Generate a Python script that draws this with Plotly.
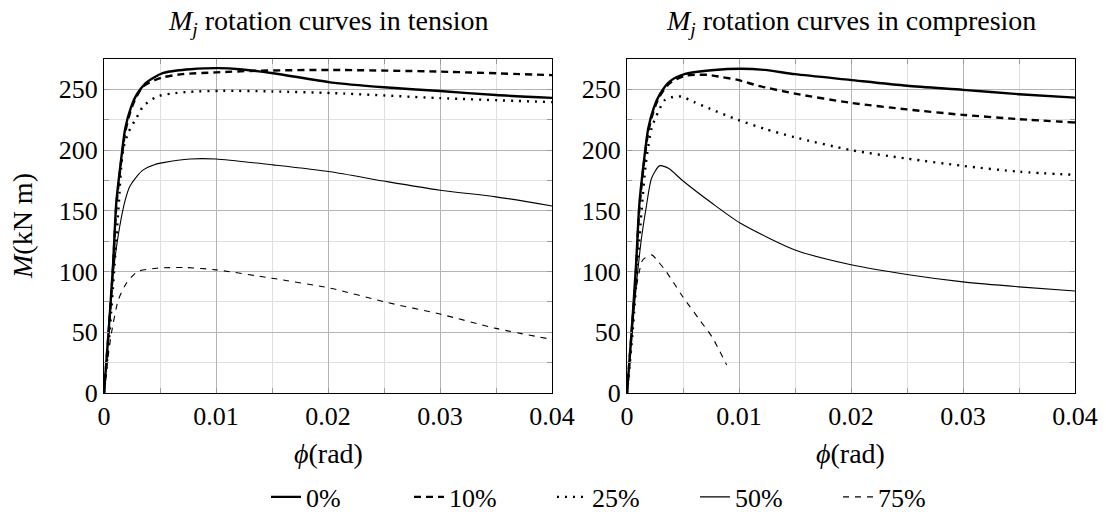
import plotly.graph_objects as go

# ---------------- data ----------------
series_names = ["0%", "10%", "25%", "50%", "75%"]

# tension
t_phi_0 = [0, 0.0004, 0.0008, 0.0011, 0.0015, 0.0019, 0.0024, 0.0029, 0.0037, 0.0045, 0.0053, 0.0065, 0.0077, 0.009, 0.0102, 0.0121, 0.0151, 0.0202, 0.025, 0.03, 0.035, 0.04]
t_M_0 = [0, 49, 104, 157, 190, 218, 235, 245.4, 255, 260, 263.5, 265.5, 266.6, 267.3, 267.5, 266.6, 263.3, 255.8, 251.7, 248.6, 245.3, 243]
t_phi_10 = [0, 0.0004, 0.0008, 0.0011, 0.0015, 0.0019, 0.0024, 0.0029, 0.0035, 0.0045, 0.0053, 0.007, 0.01, 0.0136, 0.0202, 0.03, 0.04]
t_M_10 = [0, 48, 102, 154, 188, 215, 233, 244, 252.5, 257.5, 260, 262.5, 264, 265.3, 266, 264.6, 261.7]
t_phi_25 = [0, 0.0005, 0.0009, 0.0013, 0.0017, 0.0022, 0.0029, 0.0035, 0.0047, 0.006, 0.0077, 0.0106, 0.015, 0.0205, 0.03, 0.04]
t_M_25 = [0, 50, 100, 153, 200, 215, 226.5, 236, 244, 246.5, 248, 248.8, 248.3, 246.9, 242.8, 239.5]
t_phi_50 = [0, 0.0003, 0.0005, 0.0009, 0.0014, 0.0019, 0.0023, 0.0029, 0.0035, 0.0045, 0.0053, 0.0077, 0.01, 0.0151, 0.0202, 0.025, 0.03, 0.035, 0.04]
t_M_50 = [0, 35, 65, 105, 137, 159, 170, 178, 183.7, 188, 189.7, 192.7, 192.7, 187.8, 182.2, 174.5, 167, 161.5, 154]
t_phi_75 = [0, 0.0003, 0.00066, 0.00128, 0.002, 0.003, 0.0048, 0.0072, 0.01, 0.015, 0.0202, 0.0252, 0.03, 0.035, 0.04]
t_M_75 = [0, 25, 49, 76.6, 90.4, 100, 102.8, 103.3, 101.4, 94.5, 86.3, 74.7, 65, 53.2, 44.1]

# compression
c_phi_0 = [0, 0.0004, 0.0008, 0.0011, 0.0015, 0.0019, 0.0024, 0.0029, 0.0038, 0.0052, 0.0078, 0.0102, 0.0123, 0.015, 0.0199, 0.025, 0.03, 0.035, 0.04]
c_M_0 = [0, 49, 104, 155, 190, 218, 235, 245.4, 256.4, 262.7, 266, 267, 266, 262.5, 257.8, 253, 249.6, 246, 243.2]
c_phi_10 = [0, 0.0004, 0.0008, 0.0011, 0.0015, 0.0019, 0.0024, 0.0029, 0.0038, 0.0052, 0.0065, 0.0073, 0.0085, 0.0099, 0.0117, 0.015, 0.02, 0.025, 0.03, 0.035, 0.04]
c_M_10 = [0, 48, 100, 152, 188, 215, 233, 244, 255, 261.3, 262, 261.9, 260, 257.8, 253, 246.5, 238.9, 233.5, 229, 225.5, 222.7]
c_phi_25 = [0, 0.0005, 0.0009, 0.0013, 0.0017, 0.0022, 0.0028, 0.0034, 0.0043, 0.0049, 0.006, 0.0073, 0.0099, 0.0123, 0.015, 0.02, 0.025, 0.03, 0.035, 0.04]
c_M_25 = [0, 50, 100, 150, 190, 218, 231.7, 241.4, 244.1, 244, 239.5, 234.5, 224.9, 217.5, 210.5, 200, 193, 187, 182.2, 179.6]
c_phi_50 = [0, 0.0004, 0.0009, 0.0013, 0.0017, 0.0022, 0.0029, 0.0037, 0.0049, 0.0076, 0.0101, 0.015, 0.0199, 0.025, 0.03, 0.035, 0.04]
c_M_50 = [0, 45, 95, 128, 152, 177, 187, 185, 175.4, 156.2, 140, 117.8, 105.8, 97.6, 91.5, 87.4, 84]
c_phi_75 = [0, 0.0003, 0.0007, 0.0011, 0.0014, 0.0022, 0.0028, 0.0035, 0.005, 0.0065, 0.0076, 0.0089]
c_M_75 = [0, 35, 79, 100, 109.5, 113.7, 108, 100, 79, 60, 46, 23]

x_ticks = [0, 0.01, 0.02, 0.03, 0.04]
x_tick_labels = ["0", "0.01", "0.02", "0.03", "0.04"]
y_ticks = [0, 50, 100, 150, 200, 250]
y_tick_labels = ["0", "50", "100", "150", "200", "250"]

titles = ["<i>M</i><sub><i>j</i></sub> rotation curves in tension",
          "<i>M</i><sub><i>j</i></sub> rotation curves in compresion"]
x_label = "<i>ϕ</i>(rad)"
y_label = "<i>M</i>(kN m)"

# ---------------- styles ----------------
styles = [
    dict(color="black", width=2.4, dash="solid"),
    dict(color="black", width=2.4, dash="7px,5px"),
    dict(color="black", width=2.4, dash="2px,6px"),
    dict(color="black", width=1.1, dash="solid"),
    dict(color="black", width=1.1, dash="6px,6px"),
]
for s in styles:
    s["shape"] = "spline"
    s["smoothing"] = 0.7

FONT = '"Liberation Serif", "Times New Roman", "DejaVu Serif", serif'
W, H = 1106, 517

tension = [(t_phi_0, t_M_0), (t_phi_10, t_M_10), (t_phi_25, t_M_25), (t_phi_50, t_M_50), (t_phi_75, t_M_75)]
compression = [(c_phi_0, c_M_0), (c_phi_10, c_M_10), (c_phi_25, c_M_25), (c_phi_50, c_M_50), (c_phi_75, c_M_75)]

fig = go.Figure()
for i, (x, y) in enumerate(tension):
    fig.add_trace(go.Scatter(x=x, y=y, mode="lines", name=series_names[i], line=styles[i],
                             xaxis="x", yaxis="y", showlegend=True, legendgroup=series_names[i]))
for i, (x, y) in enumerate(compression):
    fig.add_trace(go.Scatter(x=x, y=y, mode="lines", name=series_names[i], line=styles[i],
                             xaxis="x2", yaxis="y2", showlegend=False, legendgroup=series_names[i]))

left_dom = [104 / W, 552 / W]
right_dom = [627 / W, 1075 / W]
y_dom = [(H - 393) / H, (H - 59) / H]

common_x = dict(range=[0, 0.04], tickvals=x_ticks, ticktext=x_tick_labels,
                showgrid=True, gridcolor="#b4b4b4", gridwidth=1,
                ticks="inside", ticklen=5, tickcolor="#9a9a9a",
                showline=True, linecolor="black", linewidth=1.3, mirror="ticks",
                zeroline=False, tickfont=dict(family=FONT, size=26, color="black"),
                minor=dict(dtick=0.005, tick0=0, showgrid=True, gridcolor="#e0e0e0", gridwidth=1,
                           ticks="inside", ticklen=5, tickcolor="#9a9a9a"),
                automargin=False, fixedrange=True)
common_y = dict(range=[0, 275], tickvals=y_ticks, ticktext=y_tick_labels,
                showgrid=True, gridcolor="#b4b4b4", gridwidth=1,
                ticks="inside", ticklen=5, tickcolor="#9a9a9a",
                showline=True, linecolor="black", linewidth=1.3, mirror="ticks",
                zeroline=False, tickfont=dict(family=FONT, size=26, color="black"),
                minor=dict(dtick=25, tick0=0, showgrid=True, gridcolor="#e0e0e0", gridwidth=1,
                           ticks="inside", ticklen=5, tickcolor="#9a9a9a"),
                automargin=False, fixedrange=True)

fig.update_layout(
    width=W, height=H,
    margin=dict(l=0, r=0, t=0, b=0, autoexpand=False),
    paper_bgcolor="white", plot_bgcolor="white",
    font=dict(family=FONT, size=25, color="black"),
    xaxis=dict(domain=left_dom, anchor="y", **common_x),
    yaxis=dict(domain=y_dom, anchor="x", **common_y),
    xaxis2=dict(domain=right_dom, anchor="y2", **common_x),
    yaxis2=dict(domain=y_dom, anchor="x2", **common_y),
    legend=dict(orientation="h", xref="container", yref="container",
                x=266 / W, xanchor="left", y=(H - 497) / H, yanchor="middle",
                font=dict(family=FONT, size=26, color="black"),
                entrywidth=98, entrywidthmode="pixels", bgcolor="rgba(0,0,0,0)",
                itemclick=False, itemdoubleclick=False),
    showlegend=True,
)

annots = []
for i, dom in enumerate([left_dom, right_dom]):
    cx = (dom[0] + dom[1]) / 2
    annots.append(dict(text=titles[i], x=cx, y=(H - 23) / H, xref="paper", yref="paper",
                       showarrow=False, xanchor="center", yanchor="middle",
                       font=dict(family=FONT, size=28, color="black")))
    annots.append(dict(text=x_label, x=cx, y=(H - 453) / H, xref="paper", yref="paper",
                       showarrow=False, xanchor="center", yanchor="middle",
                       font=dict(family=FONT, size=28, color="black")))
annots.append(dict(text=y_label, x=22 / W, y=(y_dom[0] + y_dom[1]) / 2, xref="paper", yref="paper",
                   showarrow=False, xanchor="center", yanchor="middle", textangle=-90,
                   font=dict(family=FONT, size=28, color="black")))
fig.update_layout(annotations=annots)

fig.write_html("out.html", config={"displayModeBar": False},
               post_script="document.body.style.margin='0';")
